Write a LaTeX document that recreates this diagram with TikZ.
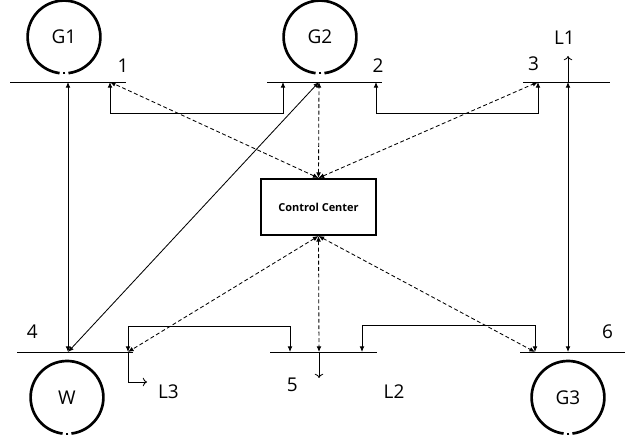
\documentclass[tikz,border=0pt]{standalone}
\usepackage{fontspec}
\setmainfont{Open Sans}
\usetikzlibrary{positioning, arrows.meta}
\tikzset{
	lbl/.style={font=\fontsize{13.5}{15}\selectfont, inner sep=0pt},
	gen/.style={circle, minimum size=1.82cm, inner sep=0pt, outer sep=0pt, font=\fontsize{13.5}{15}\selectfont},
	ring/.style={line width=1.9pt},
	bus/.style={line width=0.7pt},
	tip/.style={{Latex[length=4pt,width=3.4pt]}-{Latex[length=4pt,width=3.4pt]}},
	link/.style={line width=0.6pt, tip},
	ctrl/.style={line width=0.6pt, dash pattern=on 2.8pt off 1.8pt, tip},
	load/.style={line width=0.6pt, -{To[length=3pt,width=6pt]}},
	center box/.style={draw, line width=1.7pt, minimum width=2.865cm, minimum height=1.39cm, inner sep=0pt, font=\bfseries\fontsize{7.8}{9}\selectfont}
}
\begin{document}
\begin{tikzpicture}
			\useasboundingbox (0,0) rectangle (15.65,11.025);
			%Generators
			\foreach \n/\x/\y/\t in {g1/1.6/10.1/G1, g2/8.0/10.1/G2, w/1.675/1.09/W, g3/14.2/1.09/G3}{
				\node[gen] (\n) at (\x,\y) {\t};
				\draw[ring] (\n.-83) arc[start angle=-83, end angle=263, radius=0.91cm];
				\draw[ring, line width=1.3pt] (\n.-88) arc[start angle=-88, end angle=-92, radius=0.91cm];
			}
			%Buses
			\draw[bus] (0.25,8.975) -- (3.15,8.975);
			\draw[bus] (6.675,8.975) -- (9.55,8.975);
			\draw[bus] (13.075,8.975) -- (15.25,8.975);
			\draw[bus] (0.425,2.225) -- (3.325,2.225);
			\draw[bus] (6.75,2.225) -- (9.425,2.225);
			\draw[bus] (13.0,2.225) -- (15.625,2.225);
			\coordinate (b1g) at (1.7,8.975);
			\coordinate (b1c) at (2.75,8.975);
			\coordinate (b2a) at (7.075,8.975);
			\coordinate (b2g) at (7.975,8.975);
			\coordinate (b2b) at (9.4,8.975);
			\coordinate (b3a) at (13.45,8.975);
			\coordinate (b3l) at (14.2,8.975);
			\coordinate (b4g) at (1.7,2.225);
			\coordinate (b4c) at (3.2,2.225);
			\coordinate (b5a) at (7.25,2.225);
			\coordinate (b5c) at (7.975,2.225);
			\coordinate (b5b) at (9.05,2.225);
			\coordinate (b6a) at (13.375,2.225);
			\coordinate (b6l) at (14.2,2.225);
			%Control Center
			\node[center box] (cc) at (7.9625,5.85) {Control Center};
			%Power flow
			\draw[link] (b1g) -- (b4g);
			\draw[link] (b2g) -- (b4g);
			\draw[link] (b3l) -- (b6l);
			\draw[link] (b1c) -- ++(0,-0.775) -| (b2a);
			\draw[link] (b2b) -- ++(0,-0.775) -| (b3a);
			\draw[link] (b4c) -- ++(0,0.65) -| (b5a);
			\draw[link] (b5b) -- ++(0,0.675) -| (b6a);
			%Communication lines
			\draw[ctrl] (cc.north) -- (b1c);
			\draw[ctrl] (cc.north) -- (b2g);
			\draw[ctrl] (cc.north) -- (b3a);
			\draw[ctrl] (cc.south) -- (b4c);
			\draw[ctrl] (cc.south) -- (b5c);
			\draw[ctrl] (cc.south) -- (b6a);
			%Loads
			\coordinate (l1) at (14.2,9.625);
			\coordinate (l2) at (7.975,1.575);
			\coordinate (l3) at (3.675,1.475);
			\draw[load] (b3l) -- (l1);
			\draw[load] (b5c) -- (l2);
			\draw[load] (b4c) |- (l3);
			% Labels
			\node[lbl] (n1) at (3.075,9.39) {1};
			\node[lbl] (n2) at (9.45,9.39) {2};
			\node[lbl] (n3) at (13.34,9.44) {3};
			\node[lbl] (n4) at (0.81,2.725) {4};
			\node[lbl] (n5) at (7.31,1.41) {5};
			\node[lbl] (n6) at (15.19,2.725) {6};
			\node[lbl] (tL1) at (14.11,10.075) {L1};
			\node[lbl] (tL2) at (9.85,1.24) {L2};
			\node[lbl] (tL3) at (4.21,1.24) {L3};
		\end{tikzpicture}
\end{document}
